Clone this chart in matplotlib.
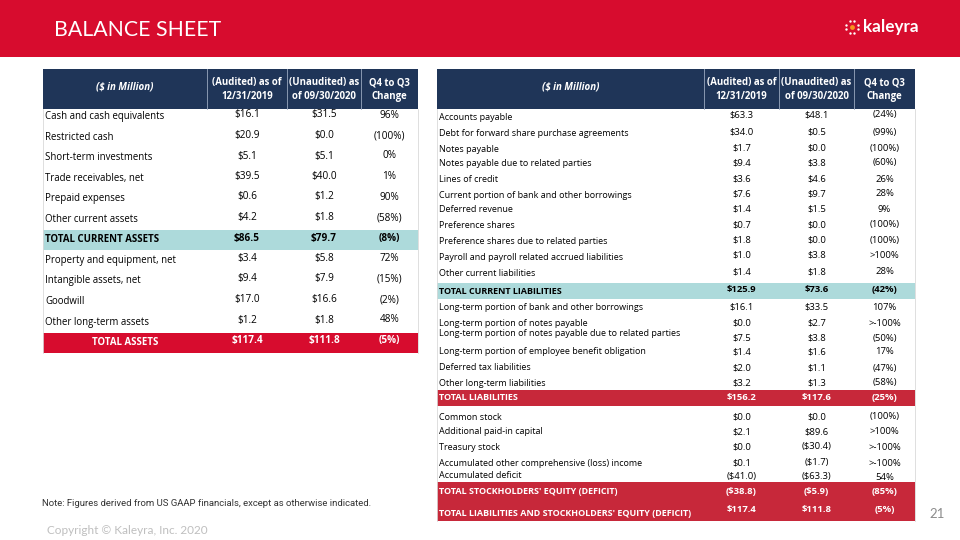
import numpy as np
import matplotlib.pyplot as plt

# ---- data -------------------------------------------------------------
asset_labels = [
    "Cash and cash equivalents", "Restricted cash", "Short-term investments",
    "Trade receivables, net", "Prepaid expenses", "Other current assets",
    "TOTAL CURRENT ASSETS", "Property and equipment, net",
    "Intangible assets, net", "Goodwill", "Other long-term assets",
    "TOTAL ASSETS",
]
asset_2019 = [16.1, 20.9, 5.1, 39.5, 0.6, 4.2, 86.5, 3.4, 9.4, 17.0, 1.2, 117.4]
asset_2020 = [31.5, 0.0, 5.1, 40.0, 1.2, 1.8, 79.7, 5.8, 7.9, 16.6, 1.8, 111.8]
asset_change = ["96%", "(100%)", "0%", "1%", "90%", "(58%)", "(8%)", "72%",
                "(15%)", "(2%)", "48%", "(5%)"]
asset_kind = ["row"] * 6 + ["sub"] + ["row"] * 4 + ["total"]

liab_labels = [
    "Accounts payable", "Debt for forward share purchase agreements",
    "Notes payable", "Notes payable due to related parties", "Lines of credit",
    "Current portion of bank and other borrowings", "Deferred revenue",
    "Preference shares", "Preference shares due to related parties",
    "Payroll and payroll related accrued liabilities",
    "Other current liabilities", "TOTAL CURRENT LIABILITIES",
    "Long-term portion of bank and other borrowings",
    "Long-term portion of notes payable",
    "Long-term portion of notes payable due to related parties",
    "Long-term portion of employee benefit obligation",
    "Deferred tax liabilities", "Other long-term liabilities",
    "TOTAL LIABILITIES", "Common stock", "Additional paid-in capital",
    "Treasury stock", "Accumulated other comprehensive (loss) income",
    "Accumulated deficit", "TOTAL STOCKHOLDERS' EQUITY (DEFICIT)",
    "TOTAL LIABILITIES AND STOCKHOLDERS' EQUITY (DEFICIT)",
]
liab_2019 = [63.3, 34.0, 1.7, 9.4, 3.6, 7.6, 1.4, 0.7, 1.8, 1.0, 1.4, 125.9,
             16.1, 0.0, 7.5, 1.4, 2.0, 3.2, 156.2, 0.0, 2.1, 0.0, 0.1, -41.0,
             -38.8, 117.4]
liab_2020 = [48.1, 0.5, 0.0, 3.8, 4.6, 9.7, 1.5, 0.0, 0.0, 3.8, 1.8, 73.6,
             33.5, 2.7, 3.8, 1.6, 1.1, 1.3, 117.6, 0.0, 89.6, -30.4, -1.7, -63.3,
             -5.9, 111.8]
liab_change = ["(24%)", "(99%)", "(100%)", "(60%)", "26%", "28%", "9%",
               "(100%)", "(100%)", ">100%", "28%", "(42%)", "107%", ">-100%",
               "(50%)", "17%", "(47%)", "(58%)", "(25%)", "(100%)", ">100%",
               ">-100%", ">-100%", "54%", "(85%)", "(5%)"]
liab_kind = ["row"] * 11 + ["sub"] + ["row"] * 6 + ["total"] + ["row"] * 5 \
    + ["total", "total"]

col_heads = ["(Audited) as of\n12/31/2019", "(Unaudited) as\nof 09/30/2020",
             "Q4 to Q3\nChange"]

# ---- layout (pixels) --------------------------------------------------
RED = "#D70C2E"
NAVY = "#1F3558"
TEAL = "#ADDADB"
BRICK = "#C7283A"

left_cols = [43, 207, 287, 361, 418]
right_cols = [437, 704, 779, 854, 915]
left_y = [117 + 20.5 * i for i in range(len(asset_labels))]
right_y = [117, 133, 149, 164, 180, 196, 210, 226, 241, 257, 274, 291,
           307, 323, 334, 352, 368, 383, 398, 417, 432, 447, 463, 476,
           492, 513]
right_val_y = [115, 132, 148, 163, 179, 194, 209, 225, 240, 255, 272, 290,
               307, 323, 338, 352, 368, 383, 398, 417, 432, 447, 463, 477,
               492, 510]

BODY = ["Open Sans", "DejaVu Sans"]
TITLE = ["Lato", "DejaVu Sans"]


def money(v):
    return f"(${-v:.1f})" if v < 0 else f"${v:.1f}"


fig = plt.figure(figsize=(9.6, 5.4), dpi=100)
ax = fig.add_axes([0, 0, 1, 1])
ax.set_xlim(0, 960)
ax.set_ylim(540, 0)
ax.axis("off")

# title band
ax.barh(28.5, 960, height=57, left=0, color=RED)
ax.text(54, 30, "BALANCE SHEET", color="white", fontsize=15.3,
        family=TITLE, va="center", zorder=5)

# logo
ang = np.linspace(0, 2 * np.pi, 9)[:-1] + np.pi / 8
ax.scatter(852 + 6 * np.cos(ang), 27 + 6 * np.sin(ang), s=3, color="white",
           marker="o", lw=0, zorder=3)
ax.scatter([852], [27], s=12, color="#F7941D", lw=0, zorder=4)
ax.text(863, 27, "kaleyra", color="white", fontsize=12.3, fontweight="bold",
        family=TITLE, va="center")


def header(cols):
    x0, x1 = cols[0], cols[-1]
    ax.barh(89, x1 - x0, height=40, left=x0, color=NAVY)
    for c in cols[1:-1]:
        ax.plot([c, c], [69, 109], color="#9AA8C0", lw=0.6)
    ax.text((cols[0] + cols[1]) / 2, 87, "($ in Million)", color="white",
            fontsize=7, fontweight="bold", style="italic", family=BODY,
            ha="center", va="center")
    for i, h in enumerate(col_heads):
        ax.text((cols[i + 1] + cols[i + 2]) / 2, 89.5, h, color="white",
                fontsize=6.9, fontweight="bold", family=BODY, ha="center",
                va="center", linespacing=1.35)


def body(cols, labels, v19, v20, chg, kind, ly, vy, fs, centre_total,
         total_color, band_h):
    x0, x1 = cols[0], cols[-1]
    # side rules
    ax.plot([x0, x0], [109, ly[-1] + band_h / 2], color="#D9D9D9", lw=0.6)
    ax.plot([x1, x1], [109, ly[-1] + band_h / 2], color="#D9D9D9", lw=0.6)
    for i, lab in enumerate(labels):
        k = kind[i]
        col = "black"
        bold = "normal"
        if k == "sub":
            ax.barh(ly[i], x1 - x0, height=band_h, left=x0, color=TEAL)
            bold = "bold"
        elif k == "total":
            ax.barh(ly[i], x1 - x0, height=band_h, left=x0,
                    color=total_color)
            col, bold = "white", "bold"
        if k == "total" and centre_total:
            ax.text((cols[0] + cols[1]) / 2, ly[i], lab, color=col,
                    fontweight=bold, fontsize=fs, family=BODY, ha="center",
                    va="center")
        else:
            ax.text(x0 + 2, ly[i], lab, color=col, fontweight=bold,
                    fontsize=fs, family=BODY, va="center")
        for j, s in enumerate([money(v19[i]), money(v20[i]), chg[i]]):
            ax.text((cols[j + 1] + cols[j + 2]) / 2, vy[i], s, color=col,
                    fontweight=bold, fontsize=fs + 0.3, family=BODY,
                    ha="center", va="center")


header(left_cols)
header(right_cols)

body(left_cols, asset_labels, asset_2019, asset_2020, asset_change,
     asset_kind, left_y, [y - 2 for y in left_y], 6.9, True, RED, 20)

# right-hand table: one red block behind the two last totals
ax.barh(501.5, right_cols[-1] - right_cols[0], height=39, left=right_cols[0],
        color=BRICK)
body(right_cols, liab_labels, liab_2019, liab_2020, liab_change, liab_kind,
     right_y, right_val_y, 6.5, False, BRICK, 16)

# footer
ax.text(42, 503, "Note: Figures derived from US GAAP financials, except as "
        "otherwise indicated.", fontsize=6.8, family=["Roboto", "DejaVu Sans"],
        color="#333333", va="center")
ax.text(47, 530, "Copyright \u00a9 Kaleyra, Inc. 2020", fontsize=8.5,
        family=TITLE, color="#BFBFBF", va="center")
ax.text(929, 514, "21", fontsize=9.5, family=TITLE, color="#8C8C8C",
        va="center")

fig.savefig("out.png", dpi=100)
